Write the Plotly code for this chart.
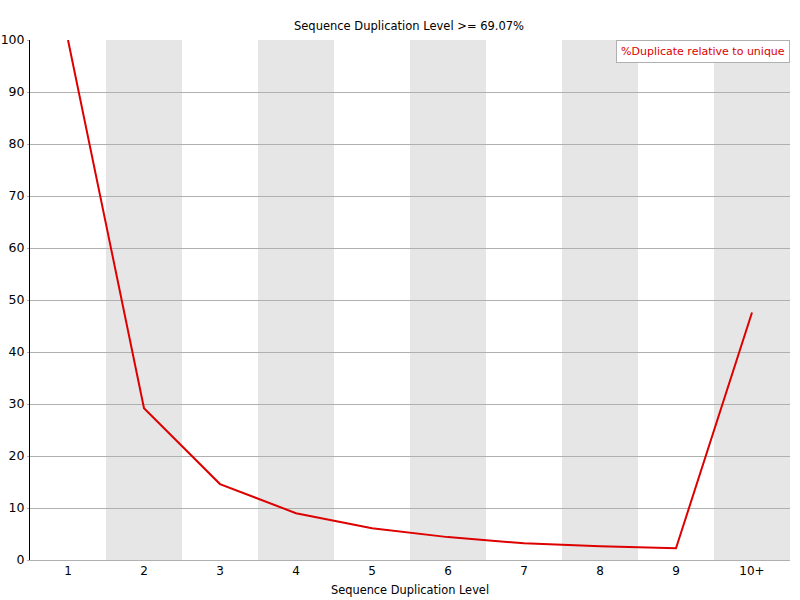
import plotly.graph_objects as go

categories = ["1", "2", "3", "4", "5", "6", "7", "8", "9", "10+"]
dup_relative = [100.0, 29.2, 14.6, 9.0, 6.1, 4.4, 3.2, 2.65, 2.25, 47.6]
y_ticks = [0, 10, 20, 30, 40, 50, 60, 70, 80, 90, 100]
title_text = "Sequence Duplication Level >= 69.07%"
legend_text = "%Duplicate relative to unique"
x_title = "Sequence Duplication Level"

FONT = "DejaVu Sans"
RED = "#dd0000"

xs = list(range(len(categories)))

fig = go.Figure()
fig.add_trace(go.Scatter(x=xs, y=dup_relative, mode="lines",
                         line=dict(color=RED, width=2),
                         name=legend_text, showlegend=False))

shapes = []
for i in range(1, len(categories), 2):
    shapes.append(dict(type="rect", xref="x", yref="paper", x0=i - 0.5, x1=i + 0.5,
                       y0=0, y1=1, fillcolor="#e6e6e6", line=dict(width=0), layer="below"))

fig.update_layout(
    width=800, height=600,
    margin=dict(l=30, r=10, t=40, b=40, autoexpand=False),
    paper_bgcolor="white", plot_bgcolor="white",
    font=dict(family=FONT, size=12, color="black"),
    title=dict(text=title_text, x=409 / 800, xanchor="center", y=1 - 25.5 / 600,
               yanchor="middle", yref="container", xref="container", automargin=False,
               font=dict(family=FONT, size=11.5, color="black")),
    shapes=shapes,
    showlegend=False,
    annotations=[dict(text=legend_text, xref="paper", yref="paper", x=1.0, y=1.0,
                      xanchor="right", yanchor="top", showarrow=False,
                      font=dict(family=FONT, size=11, color=RED),
                      bordercolor="#b0b0b0", borderwidth=1, borderpad=4, bgcolor="white")],
)
fig.update_xaxes(range=[-0.5, len(categories) - 0.5], tickvals=xs, ticktext=categories,
                 showgrid=False, zeroline=False, showline=True, linecolor="#b0b0b0",
                 linewidth=1, ticks="", automargin=False,
                 title=dict(text=x_title, standoff=8, font=dict(family=FONT, size=11.4)),
                 tickfont=dict(family=FONT, size=12))
fig.update_yaxes(range=[0, 100], tickvals=y_ticks, showgrid=True, gridcolor="#b0b0b0",
                 gridwidth=1, zeroline=False, showline=True, linecolor="black", linewidth=1,
                 ticks="outside", ticklen=2, tickcolor="#b0b0b0", automargin=False,
                 tickfont=dict(family=FONT, size=12.5))

fig.write_html("out.html", config={"displayModeBar": False},
               post_script="document.body.style.margin='0';")
